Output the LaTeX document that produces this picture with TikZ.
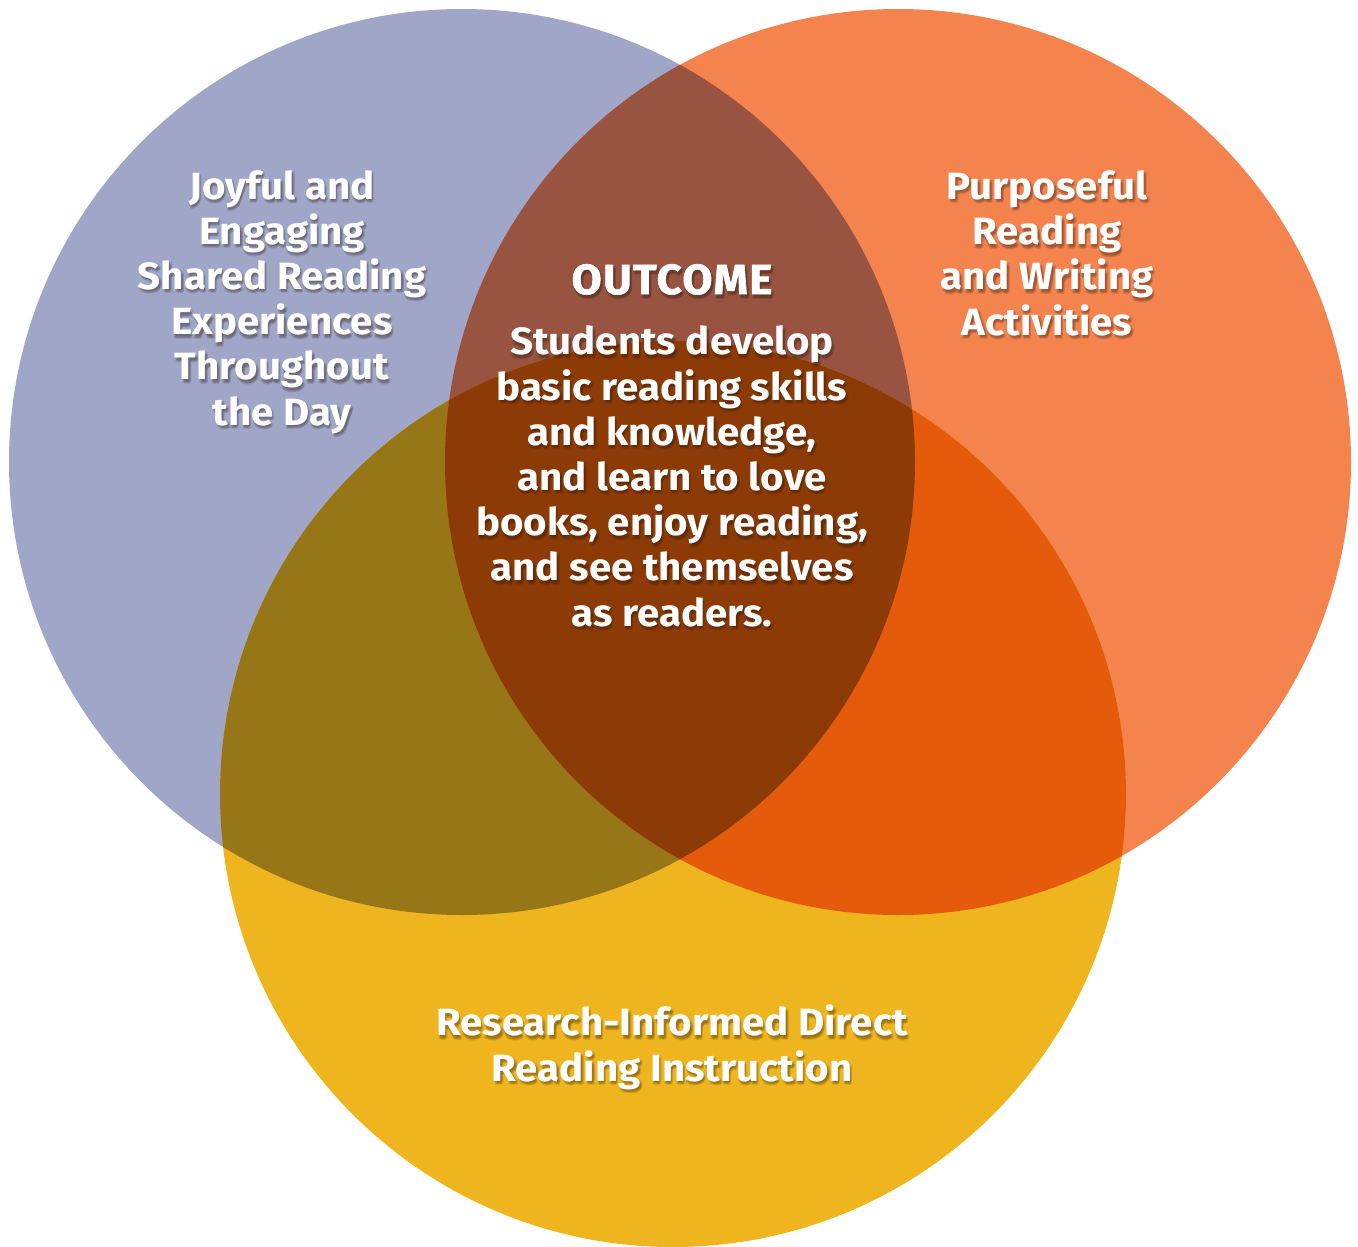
\documentclass[tikz,border=0pt]{standalone}
\usepackage{fontspec}
\setmainfont{Fira Sans}[FakeStretch=1.06]
\newfontfamily\outfont{Fira Sans}[FakeStretch=1.04,LetterSpace=3.5,FakeBold=1.4]
\definecolor{cL}{HTML}{A0A6C8}
\definecolor{cR}{HTML}{F4834E}
\definecolor{cB}{HTML}{EFB51E}
\definecolor{cLR}{HTML}{985440}
\definecolor{cLB}{HTML}{977618}
\definecolor{cRB}{HTML}{E65B0B}
\definecolor{cLRB}{HTML}{8C3A06}
\definecolor{shade}{HTML}{2A1A10}
\newcommand{\shtext}[4][]{%
  \foreach \dx/\dy [count=\k] in {1.5/2.5,2.5/3.5,0.5/3.5,2.5/1.5,1.5/4.5}{
    \node[lbl, #1, text=shade, opacity=0.10] (#2-s\k) at ([shift={(\dx,\dy)}]#3) {#4};
  }
  \node[lbl, #1] (#2) at (#3) {#4};
}
\begin{document}
\begin{tikzpicture}[x=1pt,y=-1pt,
  lbl/.style={anchor=base, align=center, text=white, inner sep=0pt,
    font=\fontsize{38}{45.2}\selectfont\bfseries},
  outlbl/.style={font=\fontsize{42}{45}\selectfont\outfont\bfseries}]
\useasboundingbox (0,0) rectangle (1358,1247);
\def\rad{453}
\coordinate (cl) at (462,462);
\coordinate (cr) at (898,462);
\coordinate (cb) at (673,794);
% base circles
\fill[cL] (cl) circle (\rad);
\fill[cR] (cr) circle (\rad);
\fill[cB] (cb) circle (\rad);
% pairwise overlaps
\begin{scope}
  \clip (cl) circle (\rad);
  \fill[cLR] (cr) circle (\rad);
  \fill[cLB] (cb) circle (\rad);
\end{scope}
\begin{scope}
  \clip (cr) circle (\rad);
  \fill[cRB] (cb) circle (\rad);
\end{scope}
\begin{scope}
  \clip (cl) circle (\rad);
  \clip (cr) circle (\rad);
  \fill[cLRB] (cb) circle (\rad);
\end{scope}
% texts (anchor = baseline of last line)
\coordinate (pl) at (282,425);
\coordinate (pr) at (1047,335);
\coordinate (po) at (672,294);
\coordinate (pc) at (672,626);
\coordinate (pb) at (672,1081);
\shtext{left}{pl}{Joyful and\\Engaging\\Shared Reading\\Experiences\\Throughout\\the Day}
\shtext{right}{pr}{Purposeful\\Reading\\and Writing\\Activities}
\shtext[outlbl]{outcome}{po}{OUTCOME}
\shtext{center}{pc}{Students develop\\basic reading skills\\and knowledge,\\and learn to love\\books, enjoy reading,\\and see themselves\\as readers.}
\shtext{bottom}{pb}{Research-Informed Direct\\Reading Instruction}
\end{tikzpicture}
\end{document}
